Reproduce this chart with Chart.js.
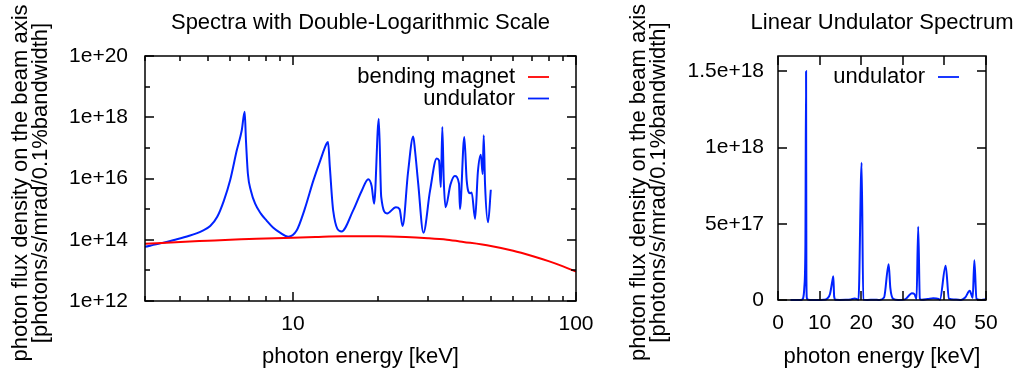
<!DOCTYPE html>
<html lang="en">
<head>
  <meta charset="UTF-8" />
  <title>Undulator spectra</title>
  <script src="https://cdn.jsdelivr.net/npm/chart.js"></script>
  <style>
    html, body { margin: 0; padding: 0; background: #fff; }
    body { position: relative; width: 1016px; height: 372px; overflow: hidden; }
    canvas { position: absolute; top: 0; }
    #logChart { left: 0; }
    #linChart { left: 600px; }
  </style>
</head>
<body>
  <canvas id="logChart" width="606" height="372"></canvas>
  <canvas id="linChart" width="416" height="372"></canvas>

  <script>
    // bending magnet spectrum, keV / photons/s/mrad/0.1%bw
    const bendEnergy = [3, 4, 5, 6, 7, 8, 10, 12, 15, 20, 25, 30, 35, 40, 50, 60, 70, 80, 90, 100];
    const bendFlux = [7.4e13, 8.5e13, 9.3e13, 1.0e14, 1.05e14, 1.1e14, 1.17e14, 1.23e14, 1.29e14, 1.29e14,
                      1.23e14, 1.12e14, 1.0e14, 8.5e13, 6.3e13, 4.4e13, 2.95e13, 2.0e13, 1.35e13, 9.1e12];

    // undulator spectrum
    const undEnergy = [3.0, 3.4, 3.8, 4.3, 4.8, 5.1, 5.4, 5.7, 6.0, 6.33, 6.59, 6.75, 6.82, 6.93, 7.1, 7.35, 7.7,
                       8.07, 8.5, 9.0, 9.62, 10.3, 11.0, 11.8, 12.5, 13.15, 13.3, 13.5, 13.87, 14.85, 16.3, 17.5,
                       18.45, 18.97, 19.35, 20.1, 20.5, 21.5, 23.1, 23.8, 24.4, 25.5, 26.6, 27.0, 27.7, 28.9,
                       30.5, 32.2, 32.8, 33.3, 33.7, 34.1, 34.6, 36.0, 37.3, 38.6, 38.9, 40.3, 41.1, 42.2,
                       42.8, 44.0, 45.0, 46.1, 46.8, 47.2, 47.7, 48.9, 50.0];
    const undFlux = [5.9e13, 7.6e13, 9.8e13, 1.35e14, 2.0e14, 2.8e14, 5.6e14, 1.9e15, 8.9e15, 8.3e16, 3.7e17, 1.5e18,
                     1.8e17, 1.4e16, 4.0e15, 1.5e15, 7.1e14, 4.2e14, 2.5e14, 1.7e14, 1.26e14, 2.0e14, 1.0e15,
                     8.5e15, 4.0e16, 1.38e17, 1.55e17, 2.3e16, 8.9e14, 1.86e14, 8.9e14, 4.0e15, 9.5e15, 5.6e15,
                     1.5e15, 9.0e17, 2.5e15, 7.2e14, 1.15e15, 1.0e15, 2.8e14, 1.6e16, 2.35e17, 7.9e16, 6.8e15,
                     1.7e14, 4.0e15, 4.5e16, 3.9e16, 5.2e15, 4.8e17, 8.5e15, 1.15e15, 6.3e15, 1.2e16, 6.8e15,
                     1.0e15, 2.25e17, 8.5e15, 3.3e15, 3.5e15, 4.8e14, 1.6e16, 6.0e16, 1.4e16, 2.6e17, 6.8e15,
                     3.7e14, 4.3e15];

    const logXTicks = [3, 4, 5, 6, 7, 8, 9, 10, 20, 30, 40, 50, 60, 70, 80, 90, 100];
    const logXLabels = [10, 100];
    const logYTicks = [1e12, 1e13, 1e14, 1e15, 1e16, 1e17, 1e18, 1e19, 1e20];
    const linXTicks = [0, 10, 20, 30, 40, 50];
    const linYTicks = [0, 5e17, 1e18, 1.5e18];

    const yTitle = ['photon flux density on the beam axis', '[photons/s/mrad/0.1%bandwidth]'];
    const xTitle = 'photon energy [keV]';

    Chart.defaults.font.family = '"Liberation Sans", Arial, sans-serif';
    Chart.defaults.color = '#000';

    const toPoints = (xs, ys) => xs.map((x, i) => ({ x: x, y: ys[i] }));

    // title may be wider than the plot; y title sits a bit lower than plot centre
    const titleFix = {
      id: 'titleFix',
      afterLayout(chart) {
        const t = chart.titleBlock;
        if (t) { t.left -= 60; t.right += 60; }
        const sy = chart.scales.y;
        sy.top += 4.5;
        sy.bottom += 4.5;
      }
    };

    // gnuplot style: box frame with inward ticks on all four sides
    const frameTicks = {
      id: 'frameTicks',
      afterDatasetsDraw(chart) {
        const { ctx, chartArea: a } = chart;
        const sx = chart.scales.x, sy = chart.scales.y;
        ctx.save();
        ctx.strokeStyle = '#000';
        ctx.lineWidth = 1.5;
        ctx.beginPath();
        sx.ticks.forEach(t => {
          const p = Math.round(sx.getPixelForValue(t.value));
          const len = t.label ? 9 : 5;
          ctx.moveTo(p, a.bottom); ctx.lineTo(p, a.bottom - len);
          ctx.moveTo(p, a.top); ctx.lineTo(p, a.top + len);
        });
        sy.ticks.forEach(t => {
          const p = Math.round(sy.getPixelForValue(t.value));
          const len = t.label ? 9 : 5;
          ctx.moveTo(a.left, p); ctx.lineTo(a.left + len, p);
          ctx.moveTo(a.right, p); ctx.lineTo(a.right - len, p);
        });
        ctx.stroke();
        ctx.strokeRect(a.left, a.top, a.right - a.left, a.bottom - a.top);
        ctx.restore();
      }
    };

    // key in top right corner: text right aligned, sample line after it
    const keyBox = {
      id: 'keyBox',
      afterDraw(chart) {
        const { ctx, chartArea: a } = chart;
        ctx.save();
        ctx.font = '22px "Liberation Sans", Arial, sans-serif';
        ctx.textAlign = 'right';
        ctx.textBaseline = 'middle';
        chart.data.datasets.forEach((ds, i) => {
          const yy = a.top + 21 + i * 21.5;
          ctx.fillStyle = '#000';
          ctx.fillText(ds.label, a.right - 61, yy);
          ctx.strokeStyle = ds.borderColor;
          ctx.lineWidth = 1.8;
          ctx.beginPath();
          ctx.moveTo(a.right - 48, yy);
          ctx.lineTo(a.right - 27, yy);
          ctx.stroke();
        });
        ctx.restore();
      }
    };

    function lineSet(label, color, xs, ys) {
      return {
        label: label,
        data: toPoints(xs, ys),
        borderColor: color,
        borderWidth: 2,
        pointRadius: 0,
        fill: false,
        cubicInterpolationMode: 'monotone'
      };
    }

    function baseOptions(title, yAxisWidth, yTitleGap, yLabelPad, padRight) {
      return {
        responsive: false,
        animation: false,
        layout: { padding: { left: 0, right: padRight, top: 0, bottom: 0 } },
        plugins: {
          legend: { display: false },
          tooltip: { enabled: false },
          title: {
            display: true,
            fullSize: false,
            text: title,
            color: '#000',
            font: { size: 22, weight: 'normal' },
            padding: { top: 10, bottom: 19.6 }
          }
        },
        scales: {
          x: {
            grid: { display: false, drawTicks: false },
            border: { display: false },
            ticks: { font: { size: 21 }, padding: 11, autoSkip: false, maxRotation: 0 },
            title: { display: true, text: xTitle, font: { size: 22 }, padding: { top: 0, bottom: 2 } },
            afterFit(s) { s.height = 71; }
          },
          y: {
            grid: { display: false, drawTicks: false },
            border: { display: false },
            ticks: { font: { size: 21 }, padding: yLabelPad, autoSkip: false },
            title: { display: true, text: yTitle, font: { size: 22, lineHeight: '20px' }, padding: { top: yTitleGap, bottom: 0 } },
            afterFit(s) { s.width = yAxisWidth; }
          }
        }
      };
    }

    // left: double logarithmic
    const logOpts = baseOptions('Spectra with Double-Logarithmic Scale', 145, 10.5, 17, 30);
    Object.assign(logOpts.scales.x, {
      type: 'logarithmic', min: 3, max: 100,
      afterBuildTicks(s) { s.ticks = logXTicks.map(v => ({ value: v })); }
    });
    logOpts.scales.x.ticks.callback = v => logXLabels.includes(v) ? String(v) : '';
    Object.assign(logOpts.scales.y, {
      type: 'logarithmic', min: 1e12, max: 1e20,
      afterBuildTicks(s) { s.ticks = logYTicks.map(v => ({ value: v })); }
    });
    logOpts.scales.y.ticks.callback = v => {
      const e = Math.round(Math.log10(v));
      return e % 2 === 0 ? '1e+' + e : '';
    };

    new Chart(document.getElementById('logChart'), {
      type: 'line',
      data: {
        datasets: [
          lineSet('bending magnet', '#ff0000', bendEnergy, bendFlux),
          lineSet('undulator', '#0022ff', undEnergy, undFlux)
        ]
      },
      options: logOpts,
      plugins: [titleFix, frameTicks, keyBox]
    });

    // right: linear undulator spectrum
    const linOpts = baseOptions('Linear Undulator Spectrum', 178, 28.5, 14, 30);
    Object.assign(linOpts.scales.x, {
      type: 'linear', min: 0, max: 50,
      afterBuildTicks(s) { s.ticks = linXTicks.map(v => ({ value: v })); }
    });
    linOpts.scales.x.ticks.callback = v => String(v);
    linOpts.scales.x.afterFit = s => { s.height = 72; };
    Object.assign(linOpts.scales.y, {
      type: 'linear', min: 0, max: 1.6e18,
      afterBuildTicks(s) { s.ticks = linYTicks.map(v => ({ value: v })); }
    });
    linOpts.scales.y.ticks.callback = v => v === 0 ? '0' : v.toExponential();

    new Chart(document.getElementById('linChart'), {
      type: 'line',
      data: {
        datasets: [lineSet('undulator', '#0022ff', undEnergy, undFlux)]
      },
      options: linOpts,
      plugins: [titleFix, frameTicks, keyBox]
    });
  </script>
</body>
</html>
